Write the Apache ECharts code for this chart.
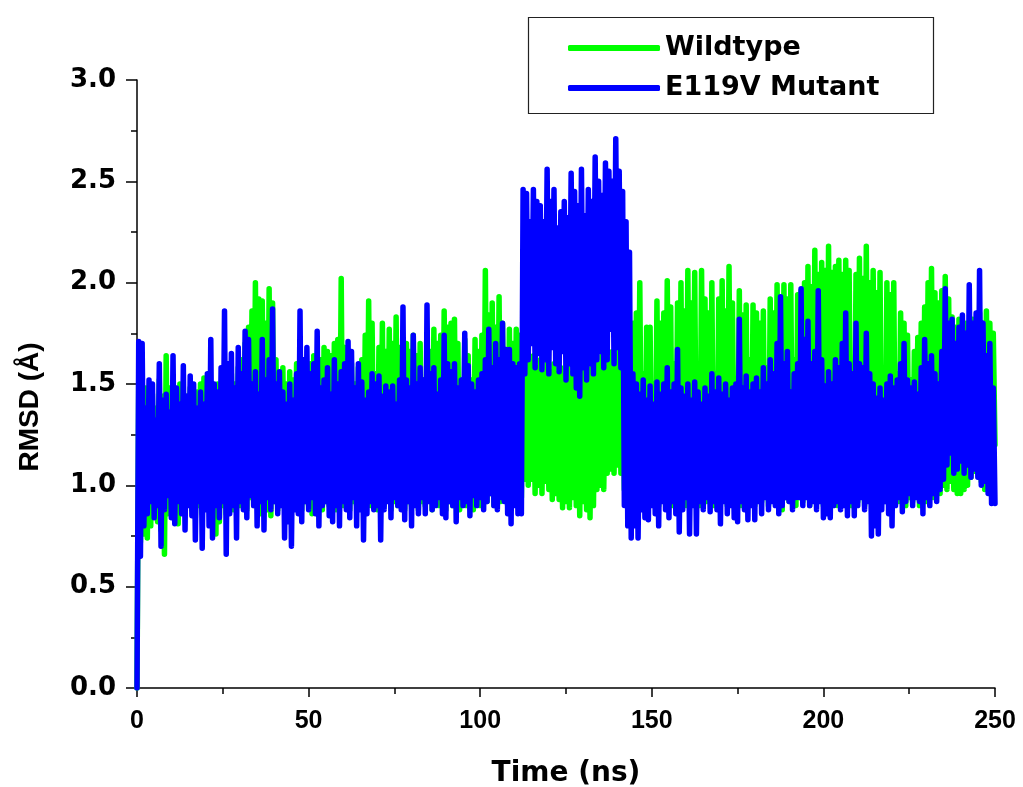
<!DOCTYPE html>
<html>
<head>
<meta charset="utf-8">
<title>RMSD</title>
<script src="https://cdn.jsdelivr.net/npm/echarts@6/dist/echarts.min.js"></script>
<style>
  html, body { margin: 0; padding: 0; background: #fff; }
  #chart { width: 1023px; height: 787px; }
</style>
</head>
<body>
<div id="chart"></div>
<script>
// RMSD trajectories sampled every 0.5 ns (0 .. 250 ns)
const STEP_NS = 0.5;

const wildtype = [
  0.00,1.50,0.72,1.55,0.76,1.48,0.74,1.40,0.80,1.45,0.86,1.38,0.82,1.52,0.78,1.44,0.66,1.64,0.86,1.48,
  0.90,1.42,0.84,1.46,0.81,1.50,0.90,1.40,0.86,1.44,0.92,1.48,0.88,1.42,0.84,1.46,0.90,1.50,0.86,1.53,
  0.92,1.48,0.88,1.40,0.84,1.46,0.76,1.50,0.82,1.44,0.90,1.52,0.86,1.48,0.92,1.55,0.88,1.50,0.94,1.58,
  0.90,1.62,0.92,1.70,0.88,1.78,0.94,1.86,0.90,2.00,0.92,1.92,0.86,1.91,0.90,1.80,0.88,1.97,0.85,1.90,
  0.92,1.62,0.88,1.55,0.94,1.58,0.90,1.50,0.86,1.56,0.92,1.52,0.90,1.60,0.94,1.58,0.88,1.62,0.92,1.56,
  0.90,1.60,0.86,1.64,0.92,1.58,0.94,1.62,0.88,1.68,0.92,1.66,0.90,1.64,0.94,1.70,0.88,1.72,0.92,2.02,
  0.90,1.68,0.94,1.65,0.88,1.60,0.92,1.50,0.90,1.58,0.94,1.62,0.88,1.74,0.92,1.91,0.90,1.80,0.94,1.55,
  0.88,1.68,0.92,1.80,0.90,1.66,0.94,1.77,0.88,1.70,0.92,1.83,0.90,1.68,0.94,1.52,0.88,1.70,0.92,1.66,
  0.90,1.74,0.94,1.64,0.88,1.70,0.92,1.52,0.90,1.72,0.94,1.66,0.88,1.77,0.92,1.70,0.90,1.74,0.94,1.86,
  0.88,1.78,0.92,1.80,0.90,1.82,0.94,1.70,0.88,1.50,0.92,1.72,0.90,1.64,0.94,1.52,0.88,1.72,0.92,1.66,
  0.90,1.74,0.94,2.06,0.92,1.84,0.96,1.90,0.90,1.78,0.94,1.93,0.92,1.80,0.96,1.55,0.90,1.77,0.94,1.70,
  0.92,1.77,0.96,1.74,0.94,1.68,1.03,1.67,1.00,1.60,1.03,1.64,0.96,1.58,1.00,1.62,0.96,1.55,1.02,1.60,
  0.98,1.56,0.93,1.60,0.96,1.55,0.93,1.58,0.89,1.54,0.92,1.60,0.89,1.55,0.94,1.58,0.90,1.52,0.85,1.56,
  0.92,1.60,0.88,1.55,0.84,1.58,0.90,1.62,0.98,1.60,1.00,1.64,0.98,1.58,1.06,1.62,1.08,1.66,1.06,1.64,
  1.10,1.70,1.06,1.78,0.98,1.66,0.92,1.72,0.90,1.80,0.94,1.85,0.92,2.00,0.96,1.55,0.90,1.78,0.94,1.78,
  0.92,1.50,0.96,1.91,0.90,1.80,0.94,1.85,0.92,2.01,0.96,1.88,0.90,1.60,0.94,1.90,0.92,2.00,0.96,1.86,
  0.90,2.06,0.94,1.90,0.92,2.05,0.96,1.58,0.90,2.06,0.94,1.92,0.92,1.85,0.96,2.00,0.90,1.55,0.94,1.92,
  0.92,2.01,0.96,1.86,0.90,2.08,0.94,1.90,0.92,1.50,0.96,1.96,0.90,1.84,0.94,1.89,0.92,1.62,0.96,1.89,
  0.90,1.85,0.94,1.80,0.92,1.86,0.96,1.58,0.90,1.92,0.94,1.85,0.92,1.99,0.96,1.90,0.88,1.99,0.94,1.92,
  0.92,1.99,0.96,1.62,0.90,1.94,0.94,1.96,0.92,2.00,0.96,2.08,0.90,1.98,0.94,2.16,0.92,2.04,0.96,2.10,
  0.90,2.06,0.94,2.18,0.92,2.05,0.96,2.08,0.90,2.11,0.94,2.04,0.92,2.11,0.96,2.06,0.90,1.60,0.94,2.04,
  0.92,2.12,0.96,2.02,0.90,2.18,0.94,2.00,0.92,2.06,0.96,1.95,0.90,2.05,0.94,1.58,0.92,2.00,0.96,1.94,
  0.90,2.00,0.94,1.55,0.92,1.85,0.96,1.80,0.90,1.74,0.94,1.52,0.92,1.66,0.96,1.73,0.90,1.80,0.94,1.88,
  0.92,2.00,0.96,2.07,0.94,1.95,0.98,1.90,0.96,1.96,1.00,2.03,0.98,1.92,1.02,1.83,0.98,1.78,0.96,1.82,
  0.96,1.76,0.98,1.80,1.00,1.74,1.04,1.82,1.07,1.78,1.07,1.85,1.02,1.80,0.98,1.86,1.00,1.80,1.04,1.75,
  1.20
];

const mutant = [
  0.00,1.71,0.65,1.70,0.80,1.38,0.86,1.52,0.92,1.50,0.84,1.32,0.90,1.60,0.70,1.42,0.88,1.45,0.95,1.36,
  0.84,1.64,0.81,1.48,0.92,1.40,0.86,1.59,0.78,1.44,0.90,1.54,0.85,1.50,0.73,1.38,0.92,1.46,0.69,1.40,
  0.88,1.55,0.80,1.72,0.74,1.50,0.90,1.46,0.84,1.58,0.92,1.86,0.66,1.60,0.86,1.65,0.90,1.48,0.74,1.68,
  0.92,1.55,0.88,1.76,0.84,1.72,0.95,1.50,0.90,1.56,0.80,1.45,0.92,1.72,0.78,1.52,0.94,1.62,0.88,1.87,
  0.92,1.50,0.86,1.56,0.90,1.46,0.74,1.40,0.82,1.50,0.70,1.42,0.88,1.55,0.86,1.86,0.82,1.62,0.92,1.68,
  0.88,1.55,0.94,1.60,0.86,1.76,0.80,1.48,0.90,1.52,0.92,1.58,0.85,1.45,0.82,1.62,0.90,1.50,0.80,1.56,
  0.92,1.60,0.88,1.71,0.84,1.66,0.94,1.48,0.80,1.60,0.88,1.51,0.73,1.42,0.86,1.46,0.92,1.55,0.88,1.50,
  0.90,1.54,0.73,1.44,0.88,1.49,0.92,1.46,0.84,1.49,0.94,1.40,0.90,1.52,0.88,1.88,0.83,1.52,0.92,1.48,
  0.80,1.74,0.90,1.50,0.86,1.58,0.94,1.52,0.86,1.89,0.92,1.55,0.88,1.58,0.90,1.45,0.94,1.52,0.86,1.74,
  0.84,1.60,0.92,1.56,0.90,1.60,0.82,1.48,0.94,1.52,0.90,1.75,0.92,1.59,0.85,1.50,0.95,1.46,0.90,1.52,
  0.94,1.55,0.88,1.62,0.92,1.77,0.96,1.58,0.90,1.70,0.88,1.62,0.94,1.80,0.92,1.67,0.86,1.67,0.81,1.60,
  0.90,1.58,0.86,1.60,0.86,2.46,1.55,2.44,1.62,2.30,1.70,2.46,1.58,2.40,1.65,2.38,1.57,2.30,1.62,2.56,
  1.55,2.40,1.68,2.46,1.60,2.27,1.56,2.35,1.66,2.40,1.52,2.32,1.60,2.54,1.55,2.45,1.48,2.38,1.44,2.56,
  1.58,2.33,1.52,2.46,1.60,2.40,1.55,2.62,1.62,2.50,1.66,2.43,1.58,2.59,1.62,2.55,1.77,2.50,1.60,2.71,
  1.68,2.55,1.58,2.45,0.90,2.30,0.80,2.15,0.74,1.55,0.80,1.50,0.74,1.45,0.88,1.52,0.84,1.42,0.83,1.49,
  0.90,1.40,0.86,1.51,0.80,1.45,0.92,1.50,0.88,1.58,0.84,1.46,0.92,1.50,0.86,1.67,0.77,1.48,0.88,1.44,
  0.94,1.50,0.76,1.42,0.90,1.51,0.76,1.46,0.92,1.40,0.88,1.48,0.94,1.44,0.87,1.55,0.92,1.46,0.88,1.53,
  0.81,1.45,0.92,1.50,0.86,1.42,0.90,1.48,0.84,1.50,0.82,1.82,0.92,1.48,0.88,1.54,0.83,1.46,0.90,1.50,
  0.83,1.53,0.92,1.46,0.86,1.58,0.94,1.50,0.88,1.62,0.92,1.55,0.90,1.70,0.86,1.93,0.90,1.60,0.94,1.66,
  0.92,1.46,0.88,1.55,0.94,1.60,0.94,1.97,0.90,1.72,0.94,1.81,0.90,1.60,0.92,1.66,0.88,1.96,0.92,1.62,
  0.84,1.49,0.86,1.56,0.84,1.50,0.90,1.62,0.92,1.58,0.88,1.70,0.90,1.85,0.85,1.60,0.92,1.55,0.85,1.80,
  0.90,1.60,0.94,1.58,0.88,1.75,0.92,1.55,0.75,1.50,0.80,1.43,0.76,1.48,0.88,1.42,0.92,1.50,0.86,1.54,
  0.80,1.48,0.90,1.52,0.94,1.60,0.87,1.70,0.92,1.52,0.96,1.48,0.90,1.51,0.94,1.45,0.92,1.58,0.86,1.72,
  0.94,1.60,0.90,1.64,0.96,1.55,0.92,1.50,0.98,1.66,1.03,1.97,1.10,1.80,1.16,1.82,1.06,1.70,1.08,1.78,
  1.12,1.84,1.06,1.75,1.10,1.99,1.04,1.80,1.08,1.85,1.04,2.06,1.00,1.80,1.02,1.64,0.96,1.70,0.91,1.48,
  0.91
];

const seriesNames = ['Wildtype', 'E119V Mutant'];
const seriesColors = ['#00ff00', '#0000ff'];
const xTicks = [0, 50, 100, 150, 200, 250];
const yTicks = [0.0, 0.5, 1.0, 1.5, 2.0, 2.5, 3.0];

const SANS = '"Liberation Sans", Arial, sans-serif';
const WIDE = '"DejaVu Sans", Verdana, sans-serif';

function toPairs(values) {
  return values.map((v, i) => [i * STEP_NS, v]);
}

const chart = echarts.init(document.getElementById('chart'), null, { renderer: 'canvas' });

const axisBlack = { color: '#000', width: 1.5 };

chart.setOption({
  animation: false,
  backgroundColor: '#fff',
  grid: { left: 137, right: 28, top: 80, bottom: 99, containLabel: false, outerBoundsMode: 'none' },
  xAxis: {
    type: 'value',
    min: xTicks[0],
    max: xTicks[xTicks.length - 1],
    interval: xTicks[1] - xTicks[0],
    axisLine: { show: true, lineStyle: axisBlack },
    axisTick: { show: true, inside: false, length: 9, lineStyle: axisBlack },
    minorTick: { show: true, splitNumber: 2, length: 6, lineStyle: axisBlack },
    splitLine: { show: false },
    axisLabel: { margin: 21, color: '#000', fontFamily: SANS, fontWeight: 'bold', fontSize: 25 },
    name: 'Time (ns)',
    nameLocation: 'middle',
    nameGap: 72,
    nameTextStyle: { color: '#000', fontFamily: WIDE, fontWeight: 'bold', fontSize: 28 }
  },
  yAxis: {
    type: 'value',
    min: yTicks[0],
    max: yTicks[yTicks.length - 1],
    interval: yTicks[1] - yTicks[0],
    axisLine: { show: true, lineStyle: axisBlack },
    axisTick: { show: true, inside: false, length: 11, lineStyle: axisBlack },
    minorTick: { show: true, splitNumber: 2, length: 6, lineStyle: axisBlack },
    splitLine: { show: false },
    axisLabel: {
      margin: 21, color: '#000', fontFamily: WIDE, fontWeight: 'bold', fontSize: 26,
      padding: [4, 0, 0, 0],
      formatter: v => v.toFixed(1)
    }
  },
  legend: {
    orient: 'vertical',
    left: 568,
    top: 32,
    padding: 0,
    itemGap: 8,
    itemWidth: 92,
    itemHeight: 6,
    icon: 'roundRect',
    data: seriesNames,
    textStyle: { color: '#000', fontFamily: WIDE, fontWeight: 'bold', fontSize: 27, lineHeight: 32 }
  },
  graphic: [
    {
      type: 'rect',
      z: 1,
      shape: { x: 528.5, y: 17.5, width: 405, height: 96 },
      style: { fill: '#fff', stroke: '#222', lineWidth: 1.2 }
    },
    {
      type: 'text',
      x: 30,
      y: 407,
      rotation: Math.PI / 2,
      style: {
        text: 'RMSD (Å)',
        fill: '#000',
        font: 'bold 28px "Liberation Sans", Arial, sans-serif',
        align: 'center',
        verticalAlign: 'middle'
      }
    }
  ],
  series: seriesNames.map((name, k) => ({
    name,
    type: 'line',
    data: toPairs(k === 0 ? wildtype : mutant),
    showSymbol: false,
    symbol: 'none',
    sampling: null,
    color: seriesColors[k],
    lineStyle: { color: seriesColors[k], width: 5.5, cap: 'round', join: 'round' },
    z: 2 + k
  }))
});
</script>
</body>
</html>
